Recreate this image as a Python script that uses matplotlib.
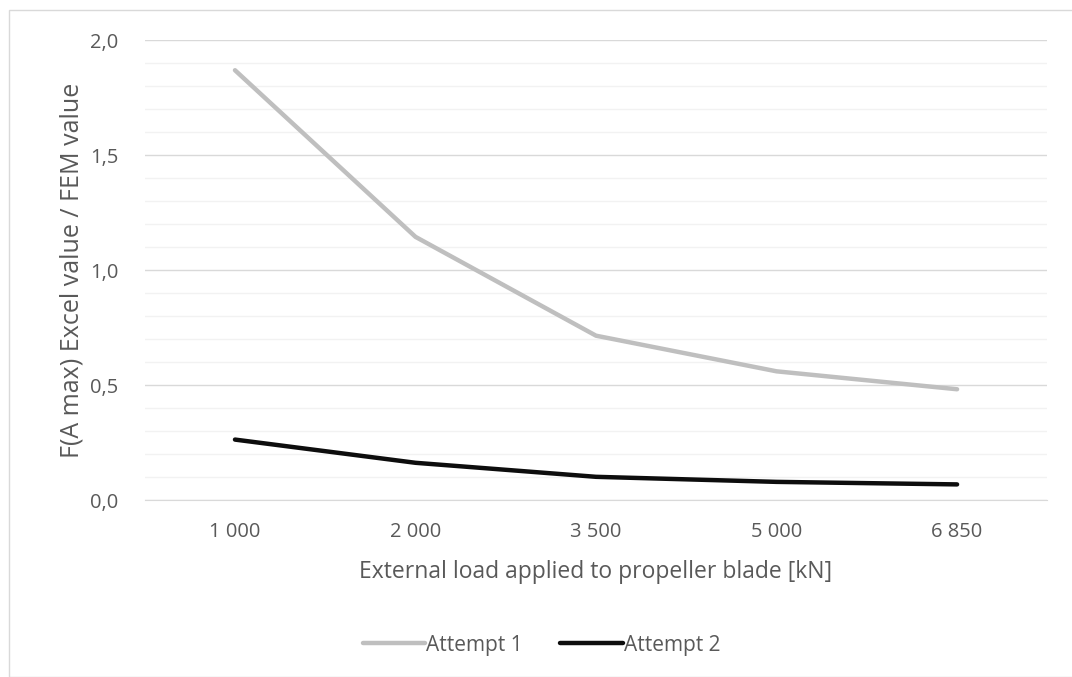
import matplotlib.pyplot as plt
from matplotlib.patches import Rectangle
from matplotlib.ticker import MultipleLocator, FuncFormatter

loads = ["1 000", "2 000", "3 500", "5 000", "6 850"]
attempt_1 = [1.87, 1.145, 0.715, 0.56, 0.482]
attempt_2 = [0.263, 0.162, 0.101, 0.079, 0.068]

plt.rcParams["font.family"] = ["Open Sans", "DejaVu Sans"]
text_col = "#595959"

fig = plt.figure(figsize=(10.72, 6.77), dpi=100)
ax = fig.add_axes([0.135, 0.2614, 0.842, 0.679])

# chart frame
fig.patches.append(Rectangle((9 / 1072, 0), 1.1, 1 - 10 / 677, transform=fig.transFigure,
                             fill=False, edgecolor="#d9d9d9", linewidth=1))

x = range(len(loads))
ax.plot(x, attempt_1, color="#bfbfbf", linewidth=3.2, solid_capstyle="round", label="Attempt 1")
ax.plot(x, attempt_2, color="#0d0d0d", linewidth=3.2, solid_capstyle="round", label="Attempt 2")

ax.set_xlim(-0.5, len(loads) - 0.5)
ax.set_ylim(0, 2.0)
ax.set_xticks(list(x))
ax.set_xticklabels(loads)
ax.yaxis.set_major_locator(MultipleLocator(0.5))
ax.yaxis.set_minor_locator(MultipleLocator(0.1))
ax.yaxis.set_major_formatter(FuncFormatter(lambda v, p: f"{v:.1f}".replace(".", ",")))
ax.grid(axis="y", which="major", color="#d9d9d9", linewidth=1)
ax.grid(axis="y", which="minor", color="#f2f2f2", linewidth=1)
ax.set_axisbelow(True)

for s in ["top", "right", "left"]:
    ax.spines[s].set_visible(False)
ax.spines["bottom"].set_color("#d9d9d9")
ax.tick_params(axis="both", which="both", length=0, labelsize=14.5, labelcolor=text_col)
ax.tick_params(axis="x", pad=16)
ax.tick_params(axis="y", pad=19)

ax.set_xlabel("External load applied to propeller blade [kN]", fontsize=16.5, color=text_col, labelpad=13)
ax.set_ylabel("F(A max) Excel value / FEM value", fontsize=18, color=text_col, labelpad=4)

fig.legend(loc="center", bbox_to_anchor=(0.505, 1 - 645 / 677), ncol=2, frameon=False,
           fontsize=15, labelcolor=text_col, handlelength=3.0, handletextpad=0.05,
           columnspacing=1.8)

fig.savefig("out.png", dpi=100)
